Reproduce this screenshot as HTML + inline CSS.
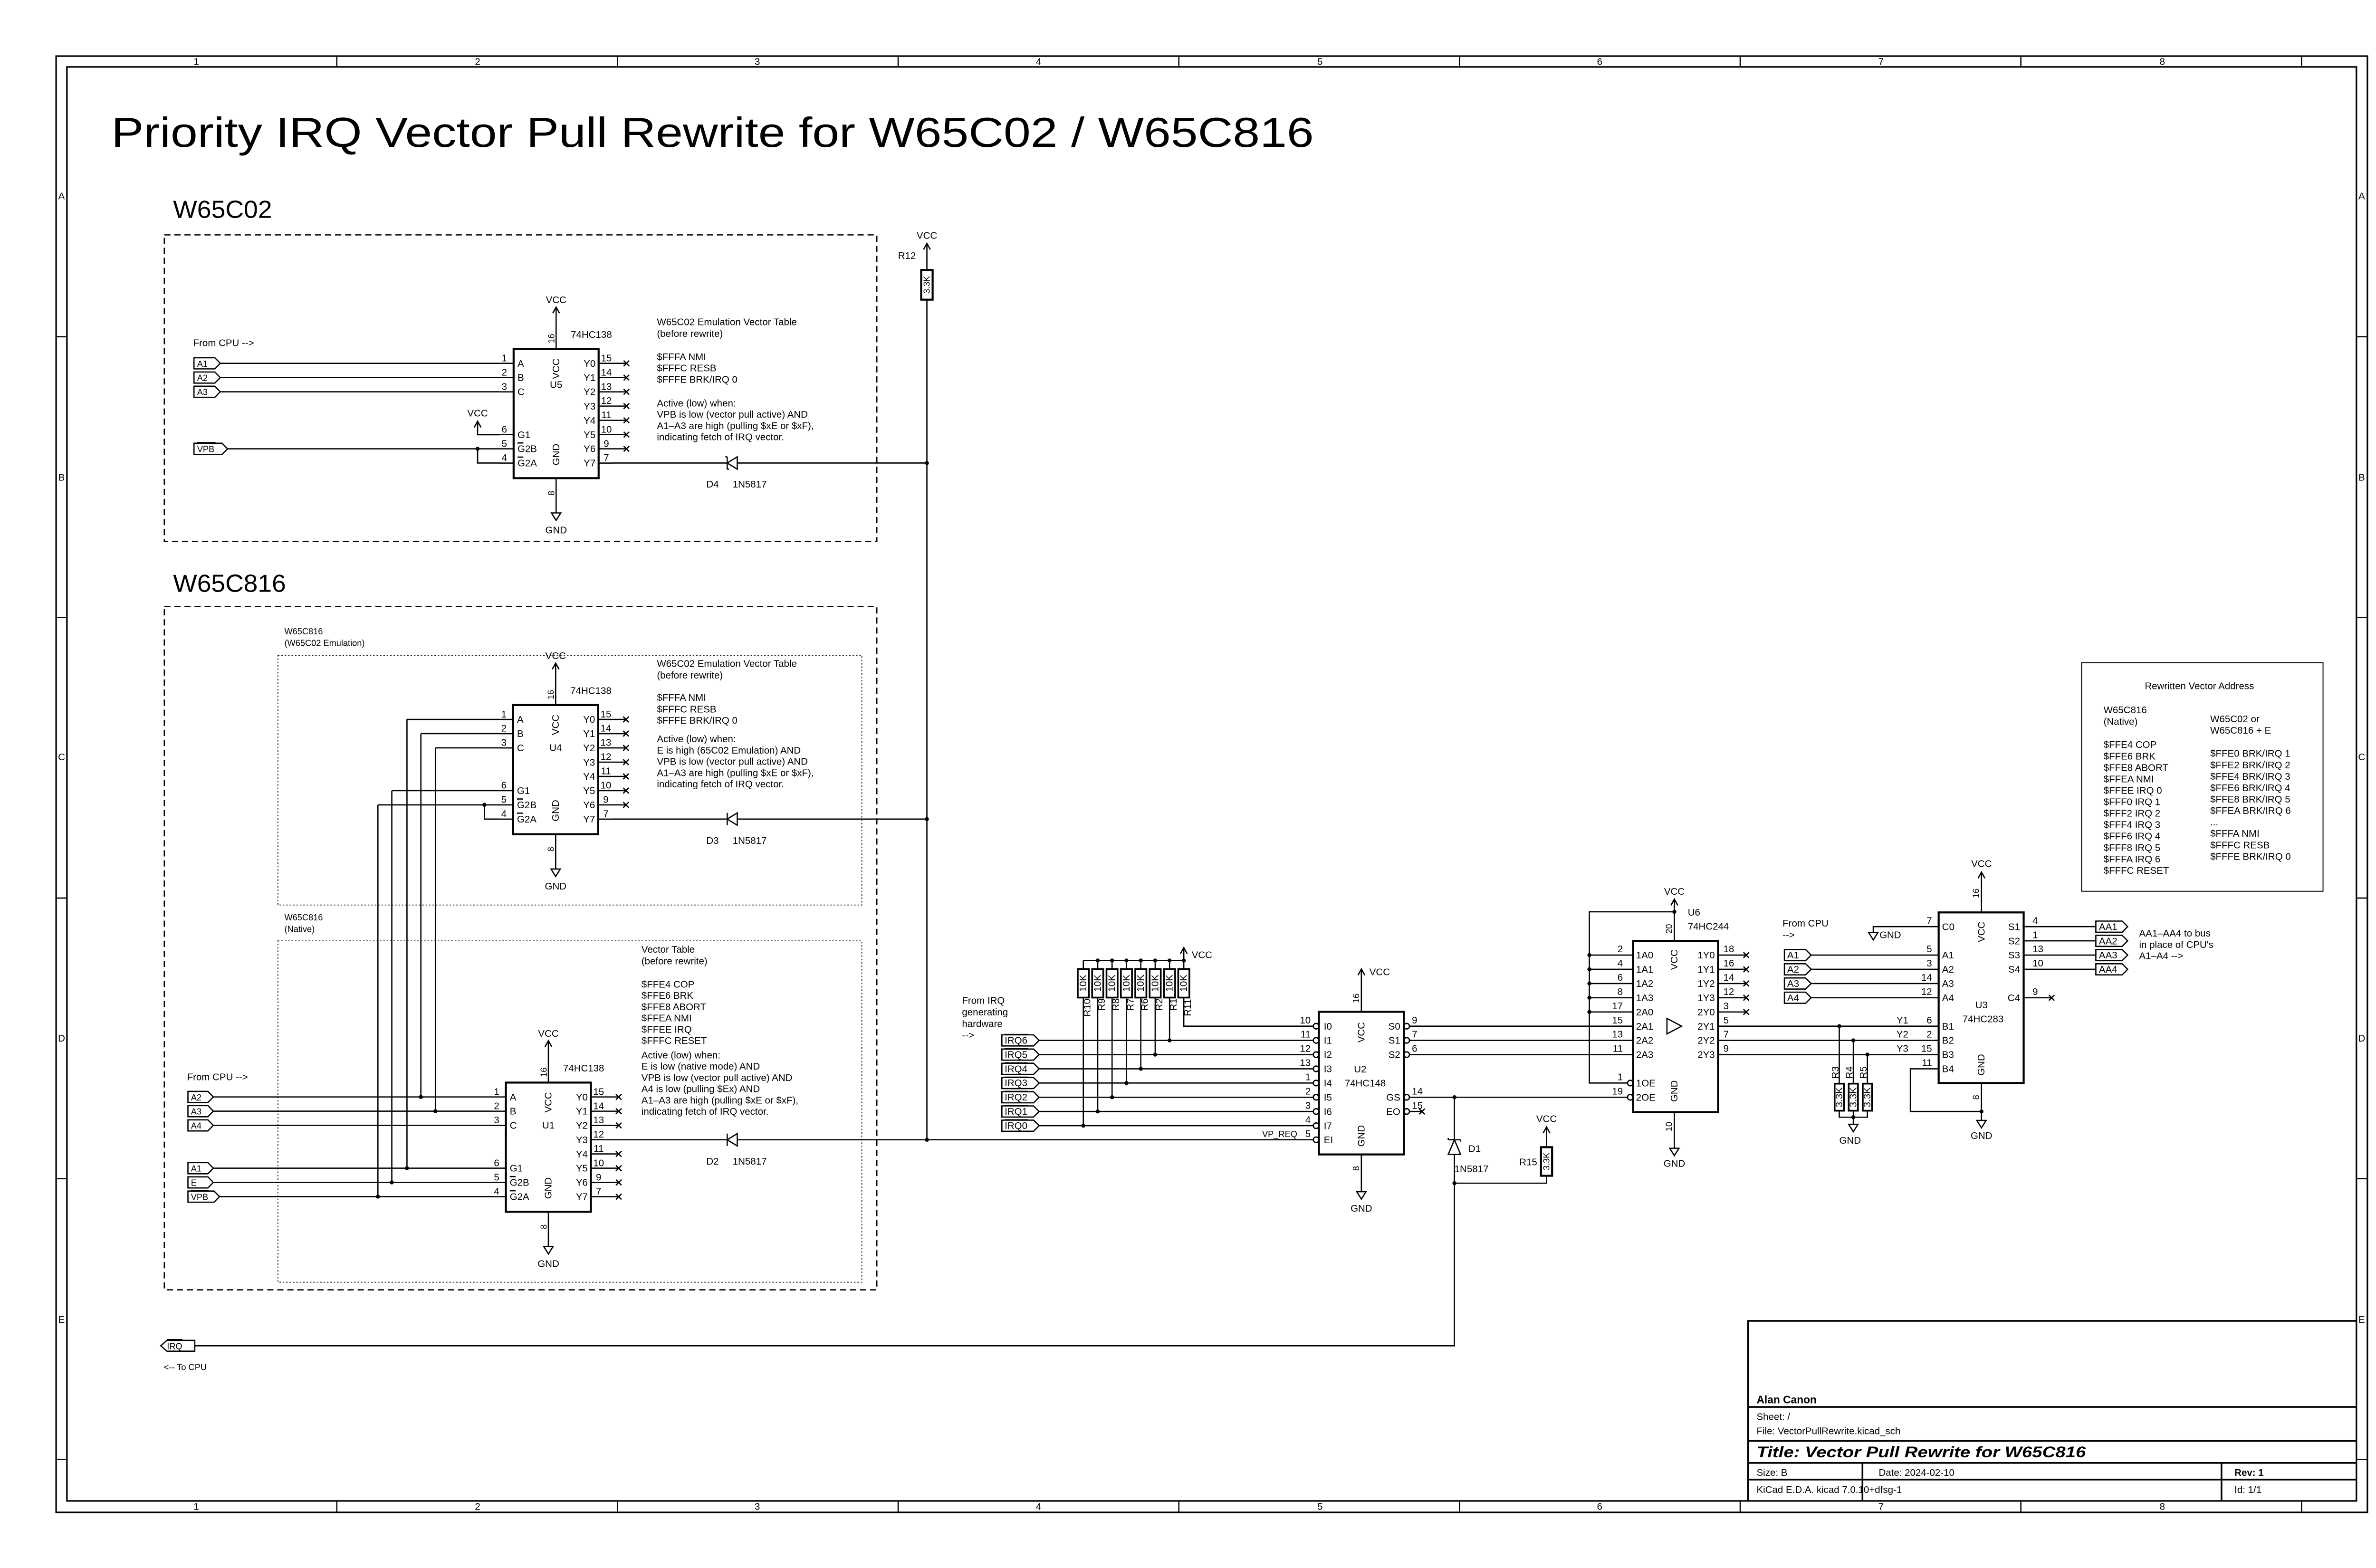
<!DOCTYPE html>
<html><head><meta charset="utf-8"><style>
html,body{margin:0;padding:0;background:#fff}
svg{display:block}
text{font-family:"Liberation Sans",sans-serif;font-size:6.3px;fill:#000}
.w{stroke:#000;stroke-width:.8;fill:none}
.b{stroke:#000;stroke-width:1.3;fill:none}
.f{stroke:#000;stroke-width:1;fill:none}
.d{fill:#000}
.s{font-size:5.6px}
.m{text-anchor:middle}
.e{text-anchor:end}
.c{dominant-baseline:central}
</style></head><body>
<svg xmlns="http://www.w3.org/2000/svg" width="5100" height="3300" viewBox="0 0 1568 1014.6">
<rect width="1568" height="1014.6" fill="#fff"/>
<!-- frame -->
<rect class="f" x="36.3" y="36.3" width="1495.4" height="942.3"/>
<rect class="f" x="43.3" y="43.3" width="1481.3" height="927.9"/>
<path class="w" d="M217.9 36.3V43.3M399.5 36.3V43.3M581.1 36.3V43.3M762.7 36.3V43.3M944.3 36.3V43.3M1125.9 36.3V43.3M1307.5 36.3V43.3M1489.1 36.3V43.3
M217.9 971.2V978.6M399.5 971.2V978.6M581.1 971.2V978.6M762.7 971.2V978.6M944.3 971.2V978.6M1125.9 971.2V978.6M1307.5 971.2V978.6M1489.1 971.2V978.6
M36.3 217.9H43.3M36.3 399.5H43.3M36.3 581.1H43.3M36.3 762.7H43.3M36.3 944.3H43.3
M1524.6 217.9H1531.7M1524.6 399.5H1531.7M1524.6 581.1H1531.7M1524.6 762.7H1531.7M1524.6 944.3H1531.7"/>
<g class="s m">
<text x="127" y="42">1</text><text x="309" y="42">2</text><text x="490" y="42">3</text><text x="672" y="42">4</text><text x="854" y="42">5</text><text x="1035" y="42">6</text><text x="1217" y="42">7</text><text x="1399" y="42">8</text>
<text x="127" y="977">1</text><text x="309" y="977">2</text><text x="490" y="977">3</text><text x="672" y="977">4</text><text x="854" y="977">5</text><text x="1035" y="977">6</text><text x="1217" y="977">7</text><text x="1399" y="977">8</text>
<text x="39.8" y="129">A</text><text x="39.8" y="311">B</text><text x="39.8" y="492">C</text><text x="39.8" y="674">D</text><text x="39.8" y="856">E</text>
<text x="1528" y="129">A</text><text x="1528" y="311">B</text><text x="1528" y="492">C</text><text x="1528" y="674">D</text><text x="1528" y="856">E</text>
</g>

<!-- titles -->
<text x="72" y="95" style="font-size:27px" textLength="778" lengthAdjust="spacingAndGlyphs">Priority IRQ Vector Pull Rewrite for W65C02 / W65C816</text>
<text x="112" y="141" style="font-size:16px" textLength="64" lengthAdjust="spacingAndGlyphs">W65C02</text>
<text x="112" y="383" style="font-size:16px" textLength="73" lengthAdjust="spacingAndGlyphs">W65C816</text>

<!-- dashed/dotted boxes -->
<rect x="106.3" y="152" width="461" height="198.4" fill="none" stroke="#000" stroke-width=".8" stroke-dasharray="4,2.5"/>
<rect x="106.3" y="392.5" width="461" height="442.1" fill="none" stroke="#000" stroke-width=".8" stroke-dasharray="4,2.5"/>
<rect x="179.8" y="424" width="377.8" height="161.6" fill="none" stroke="#000" stroke-width=".5" stroke-dasharray="1,1.2"/>
<rect x="179.8" y="608.8" width="377.8" height="220.9" fill="none" stroke="#000" stroke-width=".5" stroke-dasharray="1,1.2"/>
<text x="184" y="410.5" class="s">W65C816</text><text x="184" y="418" class="s">(W65C02 Emulation)</text>
<text x="184" y="595.5" class="s">W65C816</text><text x="184" y="603" class="s">(Native)</text>

<!-- ===== U5 ===== -->
<g transform="translate(332.3,235.1)">
<rect class="b" x="0" y="-9.3" width="55" height="83.6"/>
<path class="w" d="M-9 0H0M-9 9.22H0M-9 18.44H0M-9 46.1H0M-9 55.32H0M-9 64.54H0
M55 0H73M55 9.22H73M55 18.44H73M55 27.66H73M55 36.88H73M55 46.1H73M55 55.32H73M55 64.54H64
M27.5 -9.3V-36.4M25.3 -32.4L27.5 -36.4L29.7 -32.4M27.5 74.3V96.8
M71.2 -1.8L74.8 1.8M71.2 1.8L74.8 -1.8M71.2 7.42L74.8 11.02M71.2 11.02L74.8 7.42M71.2 16.64L74.8 20.24M71.2 20.24L74.8 16.64M71.2 25.86L74.8 29.46M71.2 29.46L74.8 25.86M71.2 35.08L74.8 38.68M71.2 38.68L74.8 35.08M71.2 44.3L74.8 47.9M71.2 47.9L74.8 44.3M71.2 53.52L74.8 57.12M71.2 57.12L74.8 53.52
M2.5 51.5H6.3M2.5 60.7H6.3"/>
<path d="M24.5 96.8H30.5L27.5 101.6Z" class="w"/>
<g class="s m"><text x="-6" y="-1.3">1</text><text x="-6" y="7.9">2</text><text x="-6" y="17.1">3</text><text x="-6" y="44.8">6</text><text x="-6" y="54">5</text><text x="-6" y="63.2">4</text>
<text x="60" y="-1.3">15</text><text x="60" y="7.9">14</text><text x="60" y="17.1">13</text><text x="60" y="26.3">12</text><text x="60" y="35.5">11</text><text x="60" y="44.8">10</text><text x="60" y="54">9</text><text x="60" y="63.2">7</text></g>
<text x="2.5" y="2.2">A</text><text x="2.5" y="11.4">B</text><text x="2.5" y="20.6">C</text><text x="2.5" y="48.3">G1</text><text x="2.5" y="57.5">G2B</text><text x="2.5" y="66.7">G2A</text>
<g class="e"><text x="53" y="2.2">Y0</text><text x="53" y="11.4">Y1</text><text x="53" y="20.6">Y2</text><text x="53" y="29.9">Y3</text><text x="53" y="39.1">Y4</text><text x="53" y="48.3">Y5</text><text x="53" y="57.5">Y6</text><text x="53" y="66.7">Y7</text></g>
<text class="m c" transform="rotate(-90 27.5 3.5)" x="27.5" y="3.5">VCC</text>
<text class="m c" transform="rotate(-90 27.5 59)" x="27.5" y="59">GND</text>
<text class="m c" x="27.5" y="14">U5</text>
<text class="m" x="27.5" y="-39">VCC</text>
<text class="m c s" transform="rotate(-90 24.5 -16)" x="24.5" y="-16">16</text>
<text class="m c s" transform="rotate(-90 24.5 84)" x="24.5" y="84">8</text>
<text x="37" y="-16.5">74HC138</text>
<text class="m" x="27.5" y="110">GND</text>
</g>

<!-- ===== U4 ===== -->
<g transform="translate(332,465.5)">
<rect class="b" x="0" y="-9.3" width="55" height="83.6"/>
<path class="w" d="M-9 0H0M-9 9.22H0M-9 18.44H0M-9 46.1H0M-9 55.32H0M-9 64.54H0
M55 0H73M55 9.22H73M55 18.44H73M55 27.66H73M55 36.88H73M55 46.1H73M55 55.32H73M55 64.54H64
M27.5 -9.3V-36.4M25.3 -32.4L27.5 -36.4L29.7 -32.4M27.5 74.3V96.8
M71.2 -1.8L74.8 1.8M71.2 1.8L74.8 -1.8M71.2 7.42L74.8 11.02M71.2 11.02L74.8 7.42M71.2 16.64L74.8 20.24M71.2 20.24L74.8 16.64M71.2 25.86L74.8 29.46M71.2 29.46L74.8 25.86M71.2 35.08L74.8 38.68M71.2 38.68L74.8 35.08M71.2 44.3L74.8 47.9M71.2 47.9L74.8 44.3M71.2 53.52L74.8 57.12M71.2 57.12L74.8 53.52
M2.5 51.5H6.3M2.5 60.7H6.3"/>
<path d="M24.5 96.8H30.5L27.5 101.6Z" class="w"/>
<g class="s m"><text x="-6" y="-1.3">1</text><text x="-6" y="7.9">2</text><text x="-6" y="17.1">3</text><text x="-6" y="44.8">6</text><text x="-6" y="54">5</text><text x="-6" y="63.2">4</text>
<text x="60" y="-1.3">15</text><text x="60" y="7.9">14</text><text x="60" y="17.1">13</text><text x="60" y="26.3">12</text><text x="60" y="35.5">11</text><text x="60" y="44.8">10</text><text x="60" y="54">9</text><text x="60" y="63.2">7</text></g>
<text x="2.5" y="2.2">A</text><text x="2.5" y="11.4">B</text><text x="2.5" y="20.6">C</text><text x="2.5" y="48.3">G1</text><text x="2.5" y="57.5">G2B</text><text x="2.5" y="66.7">G2A</text>
<g class="e"><text x="53" y="2.2">Y0</text><text x="53" y="11.4">Y1</text><text x="53" y="20.6">Y2</text><text x="53" y="29.9">Y3</text><text x="53" y="39.1">Y4</text><text x="53" y="48.3">Y5</text><text x="53" y="57.5">Y6</text><text x="53" y="66.7">Y7</text></g>
<text class="m c" transform="rotate(-90 27.5 3.5)" x="27.5" y="3.5">VCC</text>
<text class="m c" transform="rotate(-90 27.5 59)" x="27.5" y="59">GND</text>
<text class="m c" x="27.5" y="18.4">U4</text>
<text class="m" x="27.5" y="-39">VCC</text>
<text class="m c s" transform="rotate(-90 24.5 -16)" x="24.5" y="-16">16</text>
<text class="m c s" transform="rotate(-90 24.5 84)" x="24.5" y="84">8</text>
<text x="37" y="-16.5">74HC138</text>
<text class="m" x="27.5" y="110">GND</text>
</g>

<!-- ===== U1 ===== -->
<g transform="translate(327.3,709.8)">
<rect class="b" x="0" y="-9.3" width="55" height="83.6"/>
<path class="w" d="M-9 0H0M-9 9.22H0M-9 18.44H0M-9 46.1H0M-9 55.32H0M-9 64.54H0
M55 0H73M55 9.22H73M55 18.44H73M55 27.66H64M55 36.88H73M55 46.1H73M55 55.32H73M55 64.54H73
M27.5 -9.3V-36.4M25.3 -32.4L27.5 -36.4L29.7 -32.4M27.5 74.3V96.8
M71.2 -1.8L74.8 1.8M71.2 1.8L74.8 -1.8M71.2 7.42L74.8 11.02M71.2 11.02L74.8 7.42M71.2 16.64L74.8 20.24M71.2 20.24L74.8 16.64M71.2 35.08L74.8 38.68M71.2 38.68L74.8 35.08M71.2 44.3L74.8 47.9M71.2 47.9L74.8 44.3M71.2 53.52L74.8 57.12M71.2 57.12L74.8 53.52M71.2 62.74L74.8 66.34M71.2 66.34L74.8 62.74
M2.5 51.5H6.3M2.5 60.7H6.3"/>
<path d="M24.5 96.8H30.5L27.5 101.6Z" class="w"/>
<g class="s m"><text x="-6" y="-1.3">1</text><text x="-6" y="7.9">2</text><text x="-6" y="17.1">3</text><text x="-6" y="44.8">6</text><text x="-6" y="54">5</text><text x="-6" y="63.2">4</text>
<text x="60" y="-1.3">15</text><text x="60" y="7.9">14</text><text x="60" y="17.1">13</text><text x="60" y="26.3">12</text><text x="60" y="35.5">11</text><text x="60" y="44.8">10</text><text x="60" y="54">9</text><text x="60" y="63.2">7</text></g>
<text x="2.5" y="2.2">A</text><text x="2.5" y="11.4">B</text><text x="2.5" y="20.6">C</text><text x="2.5" y="48.3">G1</text><text x="2.5" y="57.5">G2B</text><text x="2.5" y="66.7">G2A</text>
<g class="e"><text x="53" y="2.2">Y0</text><text x="53" y="11.4">Y1</text><text x="53" y="20.6">Y2</text><text x="53" y="29.9">Y3</text><text x="53" y="39.1">Y4</text><text x="53" y="48.3">Y5</text><text x="53" y="57.5">Y6</text><text x="53" y="66.7">Y7</text></g>
<text class="m c" transform="rotate(-90 27.5 3.5)" x="27.5" y="3.5">VCC</text>
<text class="m c" transform="rotate(-90 27.5 59)" x="27.5" y="59">GND</text>
<text class="m c" x="27.5" y="18.4">U1</text>
<text class="m" x="27.5" y="-39">VCC</text>
<text class="m c s" transform="rotate(-90 24.5 -16)" x="24.5" y="-16">16</text>
<text class="m c s" transform="rotate(-90 24.5 84)" x="24.5" y="84">8</text>
<text x="37" y="-16.5">74HC138</text>
<text class="m" x="27.5" y="110">GND</text>
</g>

<!-- U5 side wiring -->
<text x="125" y="224">From CPU --&gt;</text>
<path class="w" d="M125.5 231.5H139L142.5 235.1L139 238.7H125.5ZM125.5 240.7H139L142.5 244.3L139 247.9H125.5ZM125.5 249.9H139L142.5 253.5L139 257.1H125.5ZM125.5 286.8H143.7L147.2 290.4L143.7 294H125.5Z"/>
<text x="127.5" y="237.3" class="s">A1</text><text x="127.5" y="246.5" class="s">A2</text><text x="127.5" y="255.7" class="s">A3</text><text x="127.5" y="292.6" class="s">VPB</text>
<path class="w" d="M127.5 286.4H139.5"/>
<path class="w" d="M142.5 235.1H323.3M142.5 244.3H323.3M142.5 253.5H323.3M147.2 290.4H323.3M309 290.4V299.6H323.3M309 272.6V281.3H323.3M306.8 276.6L309 272.6L311.2 276.6"/>
<text class="m" x="309" y="269.5">VCC</text>
<circle class="d" cx="309" cy="290.4" r="1.3"/>
<!-- D4 -->
<path class="w" d="M396.3 299.6H470.5M477 299.6H599.7M470.5 295.6V303.6M470.5 299.6L477 295.6V303.6Z M470.5 295.6H469.3M470.5 303.6H471.7"/>
<text x="457" y="315.5">D4</text><text x="474" y="315.5">1N5817</text>
<g>
<text x="425" y="210.5">W65C02 Emulation Vector Table</text>
<text x="425" y="218">(before rewrite)</text>
<text x="425" y="233">$FFFA NMI</text>
<text x="425" y="240.3">$FFFC RESB</text>
<text x="425" y="247.6">$FFFE BRK/IRQ 0</text>
<text x="425" y="263">Active (low) when:</text>
<text x="425" y="270.3">VPB is low (vector pull active) AND</text>
<text x="425" y="277.6">A1–A3 are high (pulling $xE or $xF),</text>
<text x="425" y="284.9">indicating fetch of IRQ vector.</text>
</g>
<!-- R12 -->
<path class="w" d="M599.7 157.5V174.7M597.5 161.5L599.7 157.5L601.9 161.5M599.7 193.9V737.5"/>
<rect class="b" x="596" y="174.7" width="7.4" height="19.2"/>
<text class="m c s" transform="rotate(-90 599.7 184.3)" x="599.7" y="184.3">3.3K</text>
<text class="m" x="599.7" y="154.5">VCC</text>
<text x="581" y="167.5">R12</text>
<circle class="d" cx="599.7" cy="299.6" r="1.3"/><circle class="d" cx="599.7" cy="530" r="1.3"/><circle class="d" cx="599.7" cy="737.5" r="1.3"/>

<!-- U4 text & wiring -->
<g>
<text x="425" y="431.5">W65C02 Emulation Vector Table</text>
<text x="425" y="439">(before rewrite)</text>
<text x="425" y="453.5">$FFFA NMI</text>
<text x="425" y="461">$FFFC RESB</text>
<text x="425" y="468.3">$FFFE BRK/IRQ 0</text>
<text x="425" y="480.3">Active (low) when:</text>
<text x="425" y="487.6">E is high (65C02 Emulation) AND</text>
<text x="425" y="494.9">VPB is low (vector pull active) AND</text>
<text x="425" y="502.2">A1–A3 are high (pulling $xE or $xF),</text>
<text x="425" y="509.5">indicating fetch of IRQ vector.</text>
</g>
<path class="w" d="M396 530H470.5M477 530H599.7M470.5 526V534M470.5 530L477 526V534Z"/>
<text x="457" y="546">D3</text><text x="474" y="546">1N5817</text>
<path class="w" d="M263.3 465.5H323M263.3 465.5V755.9M272.3 474.7H323M272.3 474.7V709.8M281.7 483.9H323M281.7 483.9V719M253.5 511.6H323M253.5 511.6V765.1M244.5 520.8H323M244.5 520.8V774.3M313.4 520.8V530H323"/>
<circle class="d" cx="313.4" cy="520.8" r="1.3"/>

<!-- U1 wiring -->
<text x="121" y="699">From CPU --&gt;</text>
<path class="w" d="M121.6 706.2H134.5L138 709.8L134.5 713.4H121.6ZM121.6 715.4H134.5L138 719L134.5 722.6H121.6ZM121.6 724.6H134.5L138 728.2L134.5 731.8H121.6ZM121.6 752.3H134.5L138 755.9L134.5 759.5H121.6ZM121.6 761.5H134.5L138 765.1L134.5 768.7H121.6ZM121.6 770.7H138.5L142 774.3L138.5 777.9H121.6Z"/>
<text x="123.5" y="712" class="s">A2</text><text x="123.5" y="721.2" class="s">A3</text><text x="123.5" y="730.4" class="s">A4</text><text x="123.5" y="758.1" class="s">A1</text><text x="123.5" y="767.3" class="s">E</text><text x="123.5" y="776.5" class="s">VPB</text>
<path class="w" d="M123.5 770.3H135"/>
<path class="w" d="M138 709.8H318.3M138 719H318.3M138 728.2H318.3M138 755.9H318.3M138 765.1H318.3M142 774.3H318.3"/>
<circle class="d" cx="272.3" cy="709.8" r="1.3"/><circle class="d" cx="281.7" cy="719" r="1.3"/><circle class="d" cx="263.3" cy="755.9" r="1.3"/><circle class="d" cx="253.5" cy="765.1" r="1.3"/><circle class="d" cx="244.5" cy="774.3" r="1.3"/>
<g>
<text x="415" y="616.5">Vector Table</text>
<text x="415" y="624">(before rewrite)</text>
<text x="415" y="639">$FFE4 COP</text>
<text x="415" y="646.3">$FFE6 BRK</text>
<text x="415" y="653.6">$FFE8 ABORT</text>
<text x="415" y="660.9">$FFEA NMI</text>
<text x="415" y="668.2">$FFEE IRQ</text>
<text x="415" y="675.5">$FFFC RESET</text>
<text x="415" y="684.8">Active (low) when:</text>
<text x="415" y="692.1">E is low (native mode) AND</text>
<text x="415" y="699.4">VPB is low (vector pull active) AND</text>
<text x="415" y="706.7">A4 is low (pulling $Ex) AND</text>
<text x="415" y="714">A1–A3 are high (pulling $xE or $xF),</text>
<text x="415" y="721.3">indicating fetch of IRQ vector.</text>
</g>
<path class="w" d="M391.3 737.5H470.5M477 737.5H850M470.5 733.5V741.5M470.5 737.5L477 733.5V741.5Z"/>
<text x="457" y="753.5">D2</text><text x="474" y="753.5">1N5817</text>

<!-- IRQ inputs -->
<text x="622.4" y="649.5">From IRQ</text><text x="622.4" y="657">generating</text><text x="622.4" y="664.5">hardware</text><text x="622.4" y="672">--&gt;</text>
<path class="w" d="M648.2 669.6H668.7L672.3 673.2L668.7 676.8H648.2ZM648.2 678.8H668.7L672.3 682.4L668.7 686H648.2ZM648.2 688H668.7L672.3 691.6L668.7 695.2H648.2ZM648.2 697.2H668.7L672.3 700.8L668.7 704.4H648.2ZM648.2 706.4H668.7L672.3 710L668.7 713.6H648.2ZM648.2 715.6H668.7L672.3 719.2L668.7 722.8H648.2ZM648.2 724.8H668.7L672.3 728.4L668.7 732H648.2Z"/>
<g class="s"><text x="650" y="675.3">IRQ6</text><text x="650" y="684.5">IRQ5</text><text x="650" y="693.7">IRQ4</text><text x="650" y="702.9">IRQ3</text><text x="650" y="712.1">IRQ2</text><text x="650" y="721.3">IRQ1</text><text x="650" y="730.5">IRQ0</text></g>
<path class="w" d="M650 669.4H665M650 678.6H665M650 687.8H665M650 697H665M650 706.2H665M650 715.4H665M650 724.6H665"/>
<path class="w" d="M672.3 673.2H849.7M672.3 682.4H849.7M672.3 691.6H849.7M672.3 700.8H849.7M672.3 710H849.7M672.3 719.2H849.7M672.3 728.4H849.7"/>
<!-- resistor array -->
<path class="w" d="M700.9 621.5H765.9M765.9 621.5V613.2M763.7 617.2L765.9 613.2L768.1 617.2
M700.9 621.5V627M710.2 621.5V627M719.5 621.5V627M728.8 621.5V627M738.1 621.5V627M747.4 621.5V627M756.7 621.5V627M765.9 621.5V627
M700.9 645.5V728.4M710.2 645.5V719.2M719.5 645.5V710M728.8 645.5V700.8M738.1 645.5V691.6M747.4 645.5V682.4M756.7 645.5V673.2M765.9 645.5V664H849.7"/>
<g class="b" style="stroke-width:1.1">
<rect x="697.3" y="627" width="7.2" height="18.5"/><rect x="706.6" y="627" width="7.2" height="18.5"/><rect x="715.9" y="627" width="7.2" height="18.5"/><rect x="725.2" y="627" width="7.2" height="18.5"/><rect x="734.5" y="627" width="7.2" height="18.5"/><rect x="743.8" y="627" width="7.2" height="18.5"/><rect x="753.1" y="627" width="7.2" height="18.5"/><rect x="762.3" y="627" width="7.2" height="18.5"/>
</g>
<g class="d"><circle cx="710.2" cy="621.5" r="1.3"/><circle cx="719.5" cy="621.5" r="1.3"/><circle cx="728.8" cy="621.5" r="1.3"/><circle cx="738.1" cy="621.5" r="1.3"/><circle cx="747.4" cy="621.5" r="1.3"/><circle cx="756.7" cy="621.5" r="1.3"/><circle cx="765.9" cy="621.5" r="1.3"/>
<circle cx="700.9" cy="728.4" r="1.3"/><circle cx="710.2" cy="719.2" r="1.3"/><circle cx="719.5" cy="710" r="1.3"/><circle cx="728.8" cy="700.8" r="1.3"/><circle cx="738.1" cy="691.6" r="1.3"/><circle cx="747.4" cy="682.4" r="1.3"/><circle cx="756.7" cy="673.2" r="1.3"/></g>
<g class="s m c">
<text transform="rotate(-90 700.9 636.2)" x="700.9" y="636.2">10K</text><text transform="rotate(-90 710.2 636.2)" x="710.2" y="636.2">10K</text><text transform="rotate(-90 719.5 636.2)" x="719.5" y="636.2">10K</text><text transform="rotate(-90 728.8 636.2)" x="728.8" y="636.2">10K</text><text transform="rotate(-90 738.1 636.2)" x="738.1" y="636.2">10K</text><text transform="rotate(-90 747.4 636.2)" x="747.4" y="636.2">10K</text><text transform="rotate(-90 756.7 636.2)" x="756.7" y="636.2">10K</text><text transform="rotate(-90 765.9 636.2)" x="765.9" y="636.2">10K</text>
<text transform="rotate(-90 703.5 652)" x="703.5" y="652">R10</text><text transform="rotate(-90 712.8 650)" x="712.8" y="650">R9</text><text transform="rotate(-90 722.1 650)" x="722.1" y="650">R8</text><text transform="rotate(-90 731.4 650)" x="731.4" y="650">R7</text><text transform="rotate(-90 740.7 650)" x="740.7" y="650">R6</text><text transform="rotate(-90 750 650)" x="750" y="650">R2</text><text transform="rotate(-90 759.3 650)" x="759.3" y="650">R1</text><text transform="rotate(-90 768.5 652)" x="768.5" y="652">R11</text>
</g>
<text x="771" y="620">VCC</text>

<!-- ===== U2 74HC148 ===== -->
<rect class="b" x="853.3" y="654.7" width="55" height="92.3"/>
<g class="w"><circle cx="851.5" cy="664" r="1.8"/><circle cx="851.5" cy="673.2" r="1.8"/><circle cx="851.5" cy="682.4" r="1.8"/><circle cx="851.5" cy="691.6" r="1.8"/><circle cx="851.5" cy="700.8" r="1.8"/><circle cx="851.5" cy="710" r="1.8"/><circle cx="851.5" cy="719.2" r="1.8"/><circle cx="851.5" cy="728.4" r="1.8"/><circle cx="851.5" cy="737.5" r="1.8"/>
<circle cx="910.1" cy="664" r="1.8"/><circle cx="910.1" cy="673.2" r="1.8"/><circle cx="910.1" cy="682.4" r="1.8"/><circle cx="910.1" cy="710" r="1.8"/><circle cx="910.1" cy="719.2" r="1.8"/></g>
<path class="w" d="M880.8 654.7V627M878.6 631L880.8 627L883 631M880.8 747V771.1M911.9 719.2H920M918.2 717.4L921.8 721M918.2 721L921.8 717.4"/>
<path class="w" d="M877.8 771.1H883.8L880.8 775.9Z"/>
<text x="886" y="631">VCC</text><text class="m" x="880.8" y="784">GND</text>
<text class="m c s" transform="rotate(-90 877.5 646)" x="877.5" y="646">16</text>
<text class="m c s" transform="rotate(-90 877.5 756)" x="877.5" y="756">8</text>
<g class="s e"><text x="848" y="662.2">10</text><text x="848" y="671.4">11</text><text x="848" y="680.6">12</text><text x="848" y="689.8">13</text><text x="848" y="699">1</text><text x="848" y="708.2">2</text><text x="848" y="717.4">3</text><text x="848" y="726.6">4</text><text x="848" y="735.8">5</text></g>
<text x="816.6" y="735.8" class="s">VP_REQ</text>
<g><text x="856.5" y="666.2">I0</text><text x="856.5" y="675.4">I1</text><text x="856.5" y="684.6">I2</text><text x="856.5" y="693.8">I3</text><text x="856.5" y="703">I4</text><text x="856.5" y="712.2">I5</text><text x="856.5" y="721.4">I6</text><text x="856.5" y="730.6">I7</text><text x="856.5" y="739.8">EI</text></g>
<g class="e"><text x="906" y="666.2">S0</text><text x="906" y="675.4">S1</text><text x="906" y="684.6">S2</text><text x="906" y="712.2">GS</text><text x="906" y="721.4">EO</text></g>
<g class="s"><text x="913.5" y="662.2">9</text><text x="913.5" y="671.4">7</text><text x="913.5" y="680.6">6</text><text x="913.5" y="708.2">14</text><text x="913.5" y="717.4">15</text></g>
<text class="m c" transform="rotate(-90 880.8 668)" x="880.8" y="668">VCC</text>
<text class="m c" transform="rotate(-90 880.8 735)" x="880.8" y="735">GND</text>
<text x="876" y="694">U2</text><text x="870" y="703">74HC148</text>

<!-- S outputs and GS -->
<path class="w" d="M911.9 664H1056.6M911.9 673.2H1056.6M911.9 682.4H1056.6M911.9 710H1053"/>
<!-- D1 / IRQ out -->
<path class="w" d="M941 710V737.5M941 747V870.8H126M937 737.5H945M937 737.5V736.3M945 737.5V738.7M941 737.5L937 747H945Z"/>
<circle class="d" cx="941" cy="710" r="1.3"/><circle class="d" cx="941" cy="765.6" r="1.3"/>
<text x="950" y="745.5">D1</text><text x="941" y="758.5">1N5817</text>
<path class="w" d="M1000.6 729.2V742.3M998.4 733.2L1000.6 729.2L1002.8 733.2M1000.6 760.8V765.6H941"/>
<rect class="b" x="997" y="742.3" width="7.2" height="18.5"/>
<text class="m c s" transform="rotate(-90 1000.6 751.5)" x="1000.6" y="751.5">3.3K</text>
<text class="m" x="1000.6" y="726">VCC</text><text x="983" y="754">R15</text>
<path class="w" d="M126 867.3H108L104 870.8L108 874.3H126Z"/>
<text x="108" y="873" class="s">IRQ</text><path class="w" d="M108 866.8H118"/>
<text x="106" y="886.5" class="s">&lt;-- To CPU</text>

<!-- ===== U6 74HC244 ===== -->
<rect class="b" x="1056.6" y="608.8" width="55" height="110.8"/>
<path class="w" d="M1083.3 608.8V581.8M1081.1 585.8L1083.3 581.8L1085.5 585.8M1083.3 590H1028.3V700.8H1053M1028.3 618H1056.6M1028.3 627.2H1056.6M1028.3 636.4H1056.6M1028.3 645.6H1056.6M1028.3 654.8H1056.6
M1083.3 719.6V743M1111.6 618H1129.8M1111.6 627.2H1129.8M1111.6 636.4H1129.8M1111.6 645.6H1129.8M1111.6 654.8H1129.8M1111.6 664H1254.3M1111.6 673.2H1254.3M1111.6 682.4H1254.3
M1128 616.2L1131.6 619.8M1128 619.8L1131.6 616.2M1128 625.4L1131.6 629M1128 629L1131.6 625.4M1128 634.6L1131.6 638.2M1128 638.2L1131.6 634.6M1128 643.8L1131.6 647.4M1128 647.4L1131.6 643.8M1128 653L1131.6 656.6M1128 656.6L1131.6 653
M1078.5 659L1088 664L1078.5 669Z"/>
<path class="w" d="M1080.3 743H1086.3L1083.3 747.8Z"/>
<g class="w"><circle cx="1054.8" cy="700.8" r="1.8"/><circle cx="1054.8" cy="710" r="1.8"/></g>
<g class="d"><circle cx="1083.3" cy="590" r="1.3"/><circle cx="1028.3" cy="618" r="1.3"/><circle cx="1028.3" cy="627.2" r="1.3"/><circle cx="1028.3" cy="636.4" r="1.3"/><circle cx="1028.3" cy="645.6" r="1.3"/><circle cx="1028.3" cy="654.8" r="1.3"/></g>
<text class="m" x="1083.3" y="579">VCC</text><text class="m" x="1083.3" y="755">GND</text>
<text x="1092" y="592.5">U6</text><text x="1092" y="601.5">74HC244</text>
<text class="m c s" transform="rotate(-90 1080 601)" x="1080" y="601">20</text>
<text class="m c s" transform="rotate(-90 1080 729)" x="1080" y="729">10</text>
<text class="m c" transform="rotate(-90 1083.3 621)" x="1083.3" y="621">VCC</text>
<text class="m c" transform="rotate(-90 1083.3 706)" x="1083.3" y="706">GND</text>
<g class="s e"><text x="1050" y="616.2">2</text><text x="1050" y="625.4">4</text><text x="1050" y="634.6">6</text><text x="1050" y="643.8">8</text><text x="1050" y="653">17</text><text x="1050" y="662.2">15</text><text x="1050" y="671.4">13</text><text x="1050" y="680.6">11</text><text x="1050" y="699">1</text><text x="1050" y="708.2">19</text></g>
<g><text x="1058.5" y="620.2">1A0</text><text x="1058.5" y="629.4">1A1</text><text x="1058.5" y="638.6">1A2</text><text x="1058.5" y="647.8">1A3</text><text x="1058.5" y="657">2A0</text><text x="1058.5" y="666.2">2A1</text><text x="1058.5" y="675.4">2A2</text><text x="1058.5" y="684.6">2A3</text><text x="1058.5" y="703">1OE</text><text x="1058.5" y="712.2">2OE</text></g>
<g class="e"><text x="1109.5" y="620.2">1Y0</text><text x="1109.5" y="629.4">1Y1</text><text x="1109.5" y="638.6">1Y2</text><text x="1109.5" y="647.8">1Y3</text><text x="1109.5" y="657">2Y0</text><text x="1109.5" y="666.2">2Y1</text><text x="1109.5" y="675.4">2Y2</text><text x="1109.5" y="684.6">2Y3</text></g>
<g class="s"><text x="1115" y="616.2">18</text><text x="1115" y="625.4">16</text><text x="1115" y="634.6">14</text><text x="1115" y="643.8">12</text><text x="1115" y="653">3</text><text x="1115" y="662.2">5</text><text x="1115" y="671.4">7</text><text x="1115" y="680.6">9</text></g>

<!-- R3 R4 R5 -->
<path class="w" d="M1190 664V701.2M1199.1 673.2V701.2M1208.2 682.4V701.2M1190 718.7V722.9H1208.2V718.7M1199.1 718.7V727.5"/>
<path class="w" d="M1196.1 727.5H1202.1L1199.1 732.3Z"/>
<g class="b" style="stroke-width:1.1"><rect x="1187" y="701.2" width="6" height="17.5"/><rect x="1196.1" y="701.2" width="6" height="17.5"/><rect x="1205.2" y="701.2" width="6" height="17.5"/></g>
<g class="d"><circle cx="1190" cy="664" r="1.3"/><circle cx="1199.1" cy="673.2" r="1.3"/><circle cx="1208.2" cy="682.4" r="1.3"/><circle cx="1199.1" cy="722.9" r="1.3"/></g>
<g class="s m c"><text transform="rotate(-90 1190 710)" x="1190" y="710">3.3K</text><text transform="rotate(-90 1199.1 710)" x="1199.1" y="710">3.3K</text><text transform="rotate(-90 1208.2 710)" x="1208.2" y="710">3.3K</text>
<text transform="rotate(-90 1187.5 694)" x="1187.5" y="694">R3</text><text transform="rotate(-90 1196.6 694)" x="1196.6" y="694">R4</text><text transform="rotate(-90 1205.7 694)" x="1205.7" y="694">R5</text></g>
<text class="m" x="1197" y="740">GND</text>
<g class="s"><text x="1227" y="662.2">Y1</text><text x="1227" y="671.4">Y2</text><text x="1227" y="680.6">Y3</text></g>

<!-- ===== U3 74HC283 ===== -->
<rect class="b" x="1254.3" y="590.4" width="55" height="110.4"/>
<path class="w" d="M1282 590.4V564.3M1279.8 568.3L1282 564.3L1284.2 568.3M1282 700.8V725M1254.3 599.6H1212V603.4M1254.3 691.6H1236V719.2H1282
M1171.8 618H1254.3M1171.8 627.2H1254.3M1171.8 636.4H1254.3M1171.8 645.6H1254.3
M1309.2 599.6H1356M1309.2 608.8H1356M1309.2 618H1356M1309.2 627.2H1356M1309.2 645.6H1327.4M1325.6 643.8L1329.2 647.4M1325.6 647.4L1329.2 643.8"/>
<path class="w" d="M1209 603.4H1215L1212 608.2Z M1279 725H1285L1282 729.8Z"/>
<circle class="d" cx="1282" cy="719.2" r="1.3"/>
<text class="m" x="1282" y="561">VCC</text><text class="m" x="1282" y="737">GND</text><text x="1216" y="607">GND</text>
<text class="m c s" transform="rotate(-90 1278.5 578)" x="1278.5" y="578">16</text>
<text class="m c s" transform="rotate(-90 1278.5 710)" x="1278.5" y="710">8</text>
<text class="m c" transform="rotate(-90 1282 603)" x="1282" y="603">VCC</text>
<text class="m c" transform="rotate(-90 1282 689)" x="1282" y="689">GND</text>
<text class="m" x="1282" y="652.5">U3</text><text class="m" x="1283" y="661.5">74HC283</text>
<g><text x="1256.5" y="601.8">C0</text><text x="1256.5" y="620.2">A1</text><text x="1256.5" y="629.4">A2</text><text x="1256.5" y="638.6">A3</text><text x="1256.5" y="647.8">A4</text><text x="1256.5" y="666.2">B1</text><text x="1256.5" y="675.4">B2</text><text x="1256.5" y="684.6">B3</text><text x="1256.5" y="693.8">B4</text></g>
<g class="e"><text x="1307" y="601.8">S1</text><text x="1307" y="611">S2</text><text x="1307" y="620.2">S3</text><text x="1307" y="629.4">S4</text><text x="1307" y="647.8">C4</text></g>
<g class="s e"><text x="1250" y="597.8">7</text><text x="1250" y="616.2">5</text><text x="1250" y="625.4">3</text><text x="1250" y="634.6">14</text><text x="1250" y="643.8">12</text><text x="1250" y="662.2">6</text><text x="1250" y="671.4">2</text><text x="1250" y="680.6">15</text><text x="1250" y="689.8">11</text></g>
<g class="s"><text x="1315" y="597.8">4</text><text x="1315" y="607">1</text><text x="1315" y="616.2">13</text><text x="1315" y="625.4">10</text><text x="1315" y="643.8">9</text></g>
<text x="1153.3" y="599.5">From CPU</text><text x="1153.3" y="607">--&gt;</text>
<path class="w" d="M1154.5 614.4H1168.2L1171.8 618L1168.2 621.6H1154.5ZM1154.5 623.6H1168.2L1171.8 627.2L1168.2 630.8H1154.5ZM1154.5 632.8H1168.2L1171.8 636.4L1168.2 640H1154.5ZM1154.5 642H1168.2L1171.8 645.6L1168.2 649.2H1154.5Z"/>
<g class="s"><text x="1156.3" y="620.2">A1</text><text x="1156.3" y="629.4">A2</text><text x="1156.3" y="638.6">A3</text><text x="1156.3" y="647.8">A4</text></g>
<path class="w" d="M1356 596H1373L1376.6 599.6L1373 603.2H1356ZM1356 605.2H1373L1376.6 608.8L1373 612.4H1356ZM1356 614.4H1373L1376.6 618L1373 621.6H1356ZM1356 623.6H1373L1376.6 627.2L1373 630.8H1356Z"/>
<g class="s"><text x="1358" y="601.8">AA1</text><text x="1358" y="611">AA2</text><text x="1358" y="620.2">AA3</text><text x="1358" y="629.4">AA4</text></g>
<text x="1384" y="606">AA1–AA4 to bus</text><text x="1384" y="613.3">in place of CPU's</text><text x="1384" y="620.6">A1–A4 --&gt;</text>

<!-- Rewritten vector table -->
<rect x="1346.8" y="428.8" width="156.2" height="147.9" fill="none" stroke="#000" stroke-width=".6"/>
<text class="m" x="1423" y="446">Rewritten Vector Address</text>
<text x="1361" y="461.5">W65C816</text><text x="1361" y="469">(Native)</text>
<text x="1430" y="467.3">W65C02 or</text><text x="1430" y="474.7">W65C816 + E</text>
<g>
<text x="1361" y="484">$FFE4 COP</text><text x="1361" y="491.4">$FFE6 BRK</text><text x="1361" y="498.8">$FFE8 ABORT</text><text x="1361" y="506.2">$FFEA NMI</text><text x="1361" y="513.6">$FFEE IRQ 0</text><text x="1361" y="521">$FFF0 IRQ 1</text><text x="1361" y="528.4">$FFF2 IRQ 2</text><text x="1361" y="535.8">$FFF4 IRQ 3</text><text x="1361" y="543.2">$FFF6 IRQ 4</text><text x="1361" y="550.6">$FFF8 IRQ 5</text><text x="1361" y="558">$FFFA IRQ 6</text><text x="1361" y="565.4">$FFFC RESET</text>
<text x="1430" y="489.7">$FFE0 BRK/IRQ 1</text><text x="1430" y="497.1">$FFE2 BRK/IRQ 2</text><text x="1430" y="504.5">$FFE4 BRK/IRQ 3</text><text x="1430" y="511.9">$FFE6 BRK/IRQ 4</text><text x="1430" y="519.3">$FFE8 BRK/IRQ 5</text><text x="1430" y="526.7">$FFEA BRK/IRQ 6</text><text x="1430" y="534.1">...</text><text x="1430" y="541.5">$FFFA NMI</text><text x="1430" y="548.9">$FFFC RESB</text><text x="1430" y="556.3">$FFFE BRK/IRQ 0</text>
</g>

<!-- title block -->
<path d="M1131 971.2V854.7H1524.6M1131 910.4H1524.6M1131 932.4H1524.6M1131 946.6H1524.6M1131 957.4H1524.6M1205 946.6V971.2M1437.3 946.6V971.2" stroke="#000" stroke-width="1.1" fill="none"/>
<text x="1136.5" y="908" style="font-size:7px;font-weight:bold">Alan Canon</text>
<text x="1136.5" y="918.8">Sheet: /</text>
<text x="1136.5" y="928">File: VectorPullRewrite.kicad_sch</text>
<text x="1136.5" y="943" style="font-size:10px;font-weight:bold;font-style:italic" textLength="213" lengthAdjust="spacingAndGlyphs">Title: Vector Pull Rewrite for W65C816</text>
<text x="1136.5" y="955">Size: B</text>
<text x="1215.5" y="955">Date: 2024-02-10</text>
<text x="1445.7" y="955" style="font-weight:bold">Rev: 1</text>
<text x="1136.5" y="966">KiCad E.D.A.  kicad 7.0.10+dfsg-1</text>
<text x="1445.7" y="966">Id: 1/1</text>
</svg>
</body></html>
